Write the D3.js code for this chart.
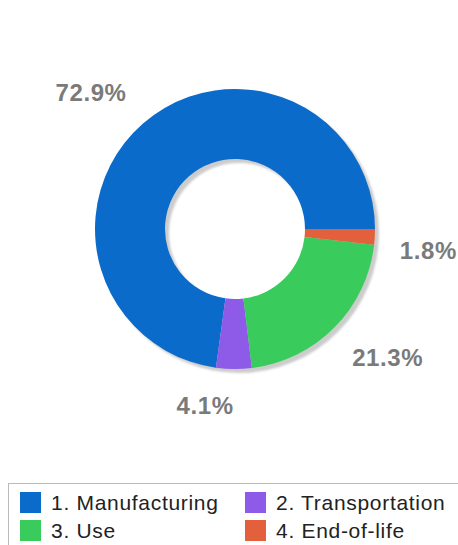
<!DOCTYPE html>
<html>
<head>
<meta charset="utf-8">
<script src="https://cdn.jsdelivr.net/npm/d3@7"></script>
<style>
  html, body { margin: 0; padding: 0; background: #fff; }
  svg { display: block; font-family: Arial, "Liberation Sans", sans-serif; }
</style>
</head>
<body>
<div id="chart"></div>
<script>
const categories = ["1. Manufacturing", "2. Transportation", "3. Use", "4. End-of-life"];
const values = [72.9, 4.1, 21.3, 1.8];
const colors = ["#0b6bcb", "#8e5ae8", "#39cb5c", "#e3603c"];

const data = categories.map((c, i) => ({ name: c, value: values[i], color: colors[i] }));

const width = 458, height = 545;
const cx = 235, cy = 229;
const outerR = 140, innerR = 70;

const svg = d3.select("#chart")
    .append("svg")
    .attr("width", width)
    .attr("height", height);

const defs = svg.append("defs");
defs.append("filter")
    .attr("id", "blur")
    .append("feGaussianBlur")
    .attr("stdDeviation", 1.2);

const g = svg.append("g")
    .attr("transform", `translate(${cx}, ${cy})`);

/* pie goes counter-clockwise from 3 o'clock */
const pie = d3.pie()
    .sort(null)
    .value(d => d.value)
    .startAngle(Math.PI / 2)
    .endAngle(Math.PI / 2 - 2 * Math.PI);

const arc = d3.arc().innerRadius(innerR).outerRadius(outerR);

// shadow
g.append("path")
    .attr("d", d3.arc().innerRadius(innerR).outerRadius(outerR)({ startAngle: 0, endAngle: 2 * Math.PI }))
    .attr("transform", "translate(4, 4)")
    .attr("fill", "#000")
    .attr("fill-opacity", 0.2)
    .attr("filter", "url(#blur)");

const arcs = pie(data);

g.selectAll("path.slice")
    .data(arcs)
    .enter()
    .append("path")
    .attr("class", "slice")
    .attr("d", arc)
    .attr("fill", d => d.data.color);

/* percentage labels outside: the box corner facing the donut sits on the label radius */
const labelArc = d3.arc().innerRadius(165).outerRadius(165);
g.selectAll("text.pct")
    .data(arcs)
    .enter()
    .append("text")
    .attr("class", "pct")
    .attr("x", d => labelArc.centroid(d)[0])
    .attr("y", d => {
        const p = labelArc.centroid(d);
        return p[1] + (p[1] < 0 ? -12 : 12);
    })
    .attr("dy", "0.35em")
    .attr("text-anchor", d => labelArc.centroid(d)[0] < 0 ? "end" : "start")
    .attr("font-size", 24)
    .attr("font-weight", "bold")
    .attr("letter-spacing", 0.6)
    .attr("fill", "#7a7a7a")
    .text(d => d.data.value.toFixed(1) + "%");

/* legend */
const legend = svg.append("g").attr("transform", "translate(8, 483)");
legend.append("rect")
    .attr("x", 0.5)
    .attr("y", 0.5)
    .attr("width", 470)
    .attr("height", 80)
    .attr("fill", "#fff")
    .attr("stroke", "#bbb");

const cols = [12, 237];
const rows = [9, 37];
const item = legend.selectAll("g.item")
    .data(data)
    .enter()
    .append("g")
    .attr("class", "item")
    .attr("transform", (d, i) => `translate(${cols[i % 2]}, ${rows[Math.floor(i / 2)]})`);

item.append("rect")
    .attr("width", 21)
    .attr("height", 21)
    .attr("fill", d => d.color);

item.append("text")
    .attr("x", 31)
    .attr("y", 10.5)
    .attr("dy", "0.35em")
    .attr("font-size", 21)
    .attr("letter-spacing", 0.7)
    .attr("fill", "#222")
    .text(d => d.name);
</script>
</body>
</html>
